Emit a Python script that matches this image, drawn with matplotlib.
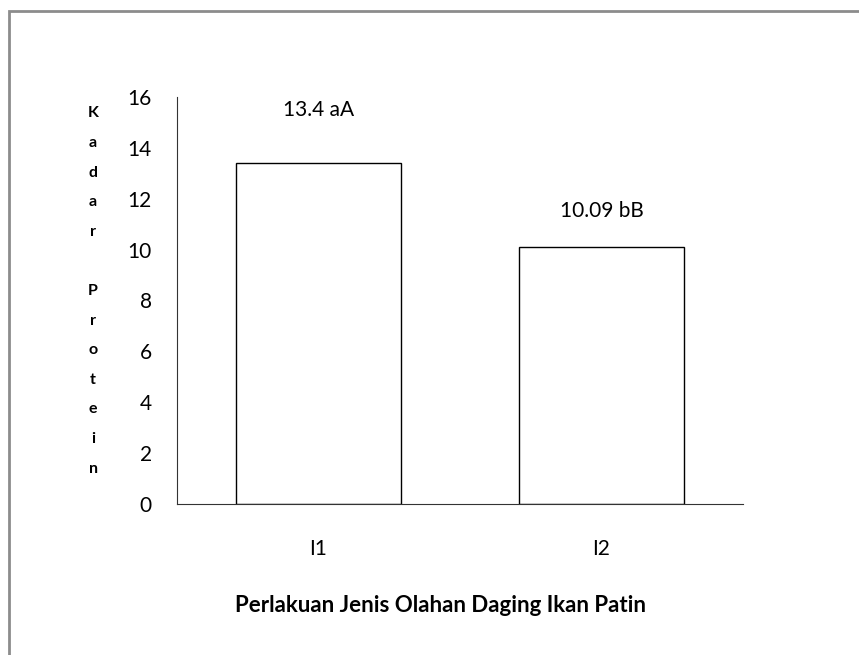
import matplotlib.pyplot as plt
from matplotlib.patches import Rectangle

plt.rcParams['font.family'] = ['Lato', 'DejaVu Sans']

categories = ['I1', 'I2']
values = [13.4, 10.09]
labels = ['13.4 aA', '10.09 bB']
label_offsets = [38, 26]  # points above bar top

fig = plt.figure(figsize=(8.59, 6.55), dpi=100)
ax = fig.add_axes([0.206, 0.2305, 0.659, 0.6215])

x = range(len(categories))
ax.bar(x, values, width=0.58, color='white', edgecolor='black', linewidth=1)
for i, (v, lab) in enumerate(zip(values, labels)):
    ax.annotate(lab, (i, v), xytext=(0, label_offsets[i]), textcoords='offset points',
                ha='center', va='center', fontsize=15)

ax.set_xlim(-0.5, 1.5)
ax.set_ylim(0, 16)
ax.set_yticks(range(0, 17, 2))
ax.set_xticks(list(x))
ax.set_xticklabels(categories)
ax.tick_params(axis='both', length=0, labelsize=15)
ax.tick_params(axis='y', pad=18)
ax.tick_params(axis='x', pad=25)
for s in ['top', 'right']:
    ax.spines[s].set_visible(False)
for s in ['left', 'bottom']:
    ax.spines[s].set_color('#333333')

ax.set_xlabel('Perlakuan Jenis Olahan Daging Ikan Patin', fontsize=16,
              fontweight='bold')
ax.xaxis.set_label_coords((441 - 177) / 566, -(605 - 504) / 407)
ax.xaxis.label.set_va('center')

ylab = '\n'.join(list('Kadar Protein'))
fig.text(93 / 859, 1 - 291 / 655, ylab, ha='center', va='center',
         fontsize=11.5, fontweight='bold', linespacing=2.42)

fig.patches.append(Rectangle((9 / 859, -0.1), 1.2, 1 - 11 / 655 + 0.1,
                             transform=fig.transFigure, fill=False,
                             edgecolor='#8c8c8c', linewidth=2))

plt.savefig('out.png', dpi=100)
plt.close()
